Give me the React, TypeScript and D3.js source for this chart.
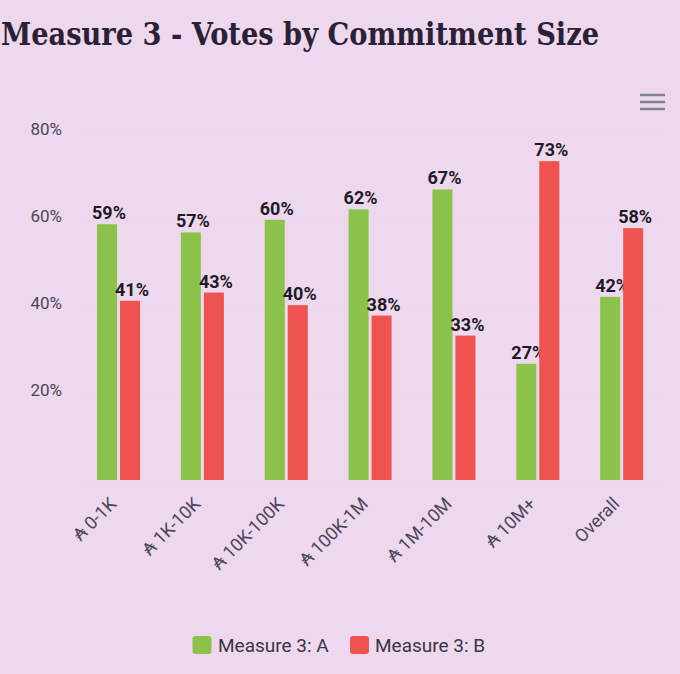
import React from "react";
import * as d3 from "d3";

const categories = ["₳ 0-1K", "₳ 1K-10K", "₳ 10K-100K", "₳ 100K-1M", "₳ 1M-10M", "₳ 10M+", "Overall"];
const seriesA = [58.8, 56.9, 59.8, 62.2, 66.8, 26.7, 42.1];
const seriesB = [41.2, 43.1, 40.2, 37.8, 33.2, 73.3, 57.9];
const seriesNames = ["Measure 3: A", "Measure 3: B"];
const seriesColors = ["#8bc34a", "#ef5350"];
const yTicks = [20, 40, 60, 80];
const titleText = "Measure 3 - Votes by Commitment Size";

const W = 680;
const H = 674;
const BG = "#edd8ee";

export default function App() {
  const x = d3.scaleBand<string>().domain(categories).range([76.6, 663.6]).padding(0);
  const sub = d3.scaleBand<string>().domain(["A", "B"]).range([-21.5, 21.5]).paddingInner(0.13).paddingOuter(0);
  const y = d3.scaleLinear().domain([0, 80]).range([480, 132]);
  const series = [seriesA, seriesB];
  const keys = ["A", "B"];

  return (
    <svg width={W} height={H} style={{ position: "absolute", left: 0, top: 0, background: BG }}
      fontFamily="Roboto, 'Noto Sans', sans-serif">
      <rect x={0} y={0} width={W} height={H} fill={BG} />
      <text x={1} y={45} fontFamily="'DejaVu Serif', serif" fontWeight="bold" fontSize={32}
        fill="#2b2136" textLength={598} lengthAdjust="spacingAndGlyphs" style={{ fontStretch: "condensed" }}>
        {titleText}
      </text>
      {/* menu icon */}
      <g stroke="#7d8494" strokeWidth={2.5}>
        {[95, 102, 109].map((yy) => (
          <line key={yy} x1={640} x2={665} y1={yy} y2={yy} />
        ))}
      </g>
      {/* gridlines */}
      <g>
        {yTicks.map((t) => (
          <line key={t} x1={76.6} x2={663.6} y1={y(t)} y2={y(t)} stroke="#e6d9e9" strokeWidth={1} />
        ))}
      </g>
      {/* y labels */}
      <g fontSize={17} fill="#4b4658" textAnchor="end">
        {yTicks.map((t) => (
          <text key={t} x={62} y={y(t) + 3}>{t}%</text>
        ))}
      </g>
      {/* bars */}
      {categories.map((c, i) => {
        const cx = (x(c) as number) + x.bandwidth() / 2;
        return (
          <g key={c}>
            {series.map((s, k) => {
              const bx = cx + (sub(keys[k]) as number);
              const top = y(s[i]);
              return (
                <g key={k}>
                  <rect x={bx} y={top} width={sub.bandwidth()} height={y(0) - top} fill={seriesColors[k]} />
                  <text x={bx + sub.bandwidth() / 2 + 2} y={top - 5} textAnchor="middle" fontSize={18}
                    fontWeight="bold" fill="#1f1a28">{Math.round(s[i])}%</text>
                </g>
              );
            })}
          </g>
        );
      })}
      {/* x axis line */}
      <line x1={76.6} x2={663.6} y1={480.5} y2={480.5} stroke="#e3dce6" strokeWidth={1} />
      {/* x labels */}
      <g fontSize={18} fill="#4b4658" textAnchor="end">
        {categories.map((c) => {
          const cx = (x(c) as number) + x.bandwidth() / 2 - 1;
          const ly = 505;
          return (
            <text key={c} x={cx} y={ly} transform={`rotate(-45 ${cx} ${ly})`}>{c}</text>
          );
        })}
      </g>
      {/* legend */}
      <g fontSize={19} fill="#3a3446">
        <rect x={192.5} y={636} width={19} height={18} rx={3} fill={seriesColors[0]} />
        <text x={218} y={652}>{seriesNames[0]}</text>
        <rect x={350} y={636} width={19} height={18} rx={3} fill={seriesColors[1]} />
        <text x={375} y={652}>{seriesNames[1]}</text>
      </g>
    </svg>
  );
}
